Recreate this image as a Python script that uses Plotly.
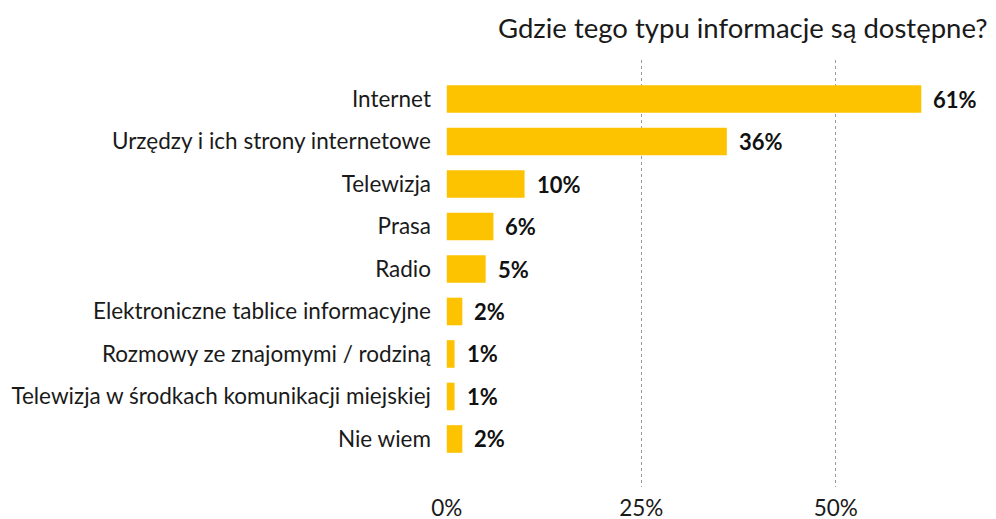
import plotly.graph_objects as go

categories = [
    "Internet",
    "Urzędzy i ich strony internetowe",
    "Telewizja",
    "Prasa",
    "Radio",
    "Elektroniczne tablice informacyjne",
    "Rozmowy ze znajomymi / rodziną",
    "Telewizja w środkach komunikacji miejskiej",
    "Nie wiem",
]
values = [61, 36, 10, 6, 5, 2, 1, 1, 2]
labels = [f"{v}%" for v in values]
x_tickvals = [0, 25, 50]
x_ticktext = ["0%", "25%", "50%"]
title_text = "Gdzie tego typu informacje są dostępne?"

BAR_COLOR = "#FDC300"
FONT = "Lato"
TXT = "#1a1a1a"

fig = go.Figure(
    go.Bar(
        x=values,
        y=categories,
        orientation="h",
        marker=dict(color=BAR_COLOR, line=dict(width=0)),
        width=0.65,
        hoverinfo="skip",
    )
)

for c, v, t in zip(categories, values, labels):
    fig.add_annotation(
        x=v, y=c, text=f"<b>{t}</b>", showarrow=False,
        xanchor="left", yanchor="middle", xshift=10,
        font=dict(family=FONT, size=22, color="#111111"),
    )

plot_l, plot_r, plot_t, plot_b = 446, 996, 60, 487
fig.add_annotation(
    text=title_text,
    x=(990 - plot_l) / (plot_r - plot_l),
    y=(plot_b - 28) / (plot_b - plot_t),
    xref="paper", yref="paper",
    showarrow=False, xanchor="right", yanchor="middle",
    font=dict(family=FONT, size=27.5, color=TXT),
)

n = len(categories)
fig.update_layout(
    width=996, height=519,
    margin=dict(l=plot_l, r=0, t=plot_t, b=519 - plot_b, autoexpand=False),
    paper_bgcolor="white", plot_bgcolor="white",
    showlegend=False,
    font=dict(family=FONT, color=TXT),
    xaxis=dict(
        range=[-0.1, 70.6], tickvals=x_tickvals, ticktext=x_ticktext,
        showgrid=True, gridcolor="#9a9a9a", griddash="dot", gridwidth=1,
        zeroline=False, showline=False, ticks="",
        tickfont=dict(family=FONT, size=22.5, color=TXT),
        ticklabelstandoff=5,
    ),
    yaxis=dict(
        type="category", categoryorder="array", categoryarray=categories,
        range=[n - 1 + 1.13, -0.918],
        showgrid=False, zeroline=False, showline=False, ticks="",
        tickfont=dict(family=FONT, size=22.5, color=TXT),
        ticklabelstandoff=14,
    ),
)

fig.write_html(
    "out.html",
    config={"displayModeBar": False},
    post_script="document.body.style.margin='0';document.body.style.padding='0';",
)
